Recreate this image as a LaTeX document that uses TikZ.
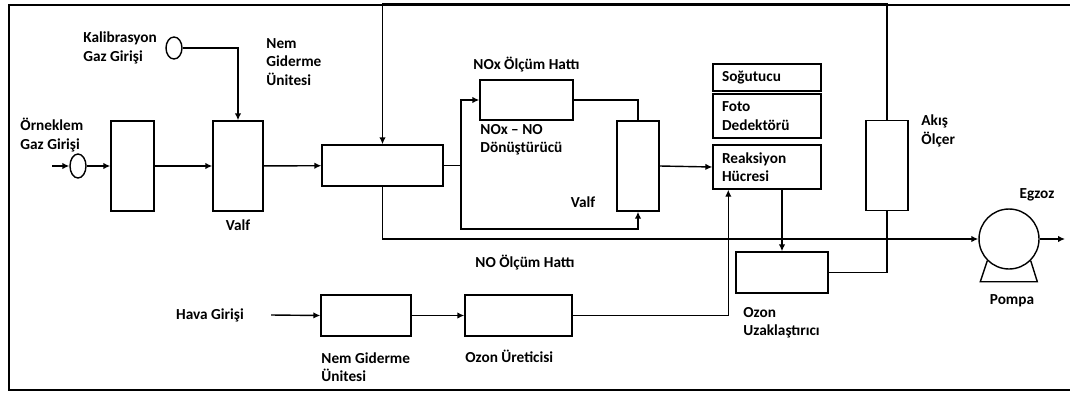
\documentclass[tikz,border=0pt]{standalone}
\usepackage{fontspec}
\setmainfont{Carlito}
\usetikzlibrary{arrows.meta, positioning, shapes.geometric}

\begin{document}
\begin{tikzpicture}[
    x=0.02cm, y=-0.02cm,
    font=\bfseries\fontsize{8.7}{10.4}\selectfont,
    line width=0.8pt,
    blk/.style={draw, inner sep=0pt},
    tall/.style={blk, minimum width=0.86cm, minimum height=1.8cm},
    flat/.style={blk, minimum height=0.82cm},
    unit/.style={draw, align=left, text width=1.8cm, inner xsep=0.18cm,
                 inner ysep=2pt, minimum height=0.88cm},
    port/.style={draw, ellipse, inner sep=0pt, minimum width=0.32cm},
    lbl/.style={align=left, inner sep=1pt},
    arr/.style={-{Latex[length=1.4mm, width=1.3mm]}}]
  \useasboundingbox (0,0) rectangle (1070,392);
  \node[draw, line width=1.2pt, inner sep=0pt, minimum width=21.32cm,
        minimum height=7.7cm] (frame) at (542,197.5) {};

  % sample line
  \node[port, minimum height=0.48cm] (sampin) at (78,166) {};
  \node[port, minimum height=0.44cm] (calin) at (174,48) {};
  \node[tall] (filt) at (132.5,166) {};
  \node[tall, minimum width=1cm] (valf1) at (238,166) {};
  \node[flat, minimum width=2.42cm] (dist) at (382.5,165.5) {};
  \node[flat, minimum width=1.86cm, minimum height=0.8cm] (conv) at (526.5,100) {};
  \node[tall, minimum width=0.84cm] (valf2) at (638,166) {};
  \node[unit, minimum height=0.54cm] (cool) at (767,77.5) {Soğutucu};
  \node[unit] (det) at (767,116) {Foto\\Dedektörü};
  \node[unit] (reac) at (767,167) {Reaksiyon\\Hücresi};
  \node[tall, minimum width=0.84cm] (flow) at (887,165.5) {};
  \node[flat, minimum width=1.84cm] (oxrem) at (782,272.5) {};
  \node[draw, circle, inner sep=0pt, minimum size=1.2cm] (pump) at (1009,239) {};

  % air line
  \node[flat, minimum width=1.8cm] (dry2) at (366,315.5) {};
  \node[flat, minimum width=2.14cm] (ozgen) at (518.5,315.5) {};

  \coordinate (src) at (52,166);
  \coordinate (sp) at (461,165.5);
  \coordinate (lo) at (461,229);
  \coordinate (out) at (1065,239);

  % labels
  \node[lbl, left=0.12cm of calin] {Kalibrasyon\\Gaz Girişi};
  \node[lbl, anchor=west] at (264,62) {Nem\\Giderme\\Ünitesi};
  \node[lbl, anchor=west] at (18,135) {Örneklem\\Gaz Girişi};
  \node[lbl, below=0.12cm of valf1] {Valf};
  \node[lbl, above=0.1cm of conv] {NOx Ölçüm Hattı};
  \node[lbl, anchor=west] at (478,140) {NOx – NO\\Dönüştürücü};
  \node[lbl] at (583,202) {Valf};
  \node[lbl, anchor=west] at (919,131) {Akış\\Ölçer};
  \node[lbl] at (1037,195) {Egzoz};
  \node[lbl] at (1012,301) {Pompa};
  \node[lbl] at (525,263) {NO Ölçüm Hattı};
  \node[lbl] (hava) at (210,315) {Hava Girişi};
  \node[lbl, anchor=west] at (319,367) {Nem Giderme\\Ünitesi};
  \node[lbl, anchor=west] at (463,356) {Ozon Üreticisi};
  \node[lbl, anchor=west] at (741,323) {Ozon\\Uzaklaştırıcı};

  % connectors
  \draw[arr] (src) -- (sampin);
  \draw[arr] (sampin) -- (filt);
  \draw[arr] (filt) -- (valf1);
  \draw[arr] (valf1) -- (dist);
  \draw[arr] (calin.east) -| (valf1.north);
  \draw (dist.east) -- (sp);
  \draw[arr] (sp) |- (conv.west);
  \draw[arr] (sp) -- (lo) -| (valf2.south);
  \draw (conv.east) -| (valf2.north);
  \draw[arr] (valf2.east) -- (reac.west);
  \draw[arr] (flow.north) -- (flow.north |- frame.north) -| (dist.north);
  \draw[arr] (dist.south) |- (pump.west);
  \draw[arr] (pump.east) -- (out);
  \draw (pump.225) -- ++(-7,21) -- ++(57,0) -- (pump.-45);
  \draw[arr] ([xshift=0.5cm]hava.east) -- (dry2.west);
  \draw[arr] (dry2) -- (ozgen);
  \draw[arr] (ozgen.east) -| ([xshift=0.32cm]reac.south west);
  \draw[arr] (oxrem.north |- reac.south) -- (oxrem.north);
  \draw (oxrem.east) -| (flow.south);
\end{tikzpicture}
\end{document}
